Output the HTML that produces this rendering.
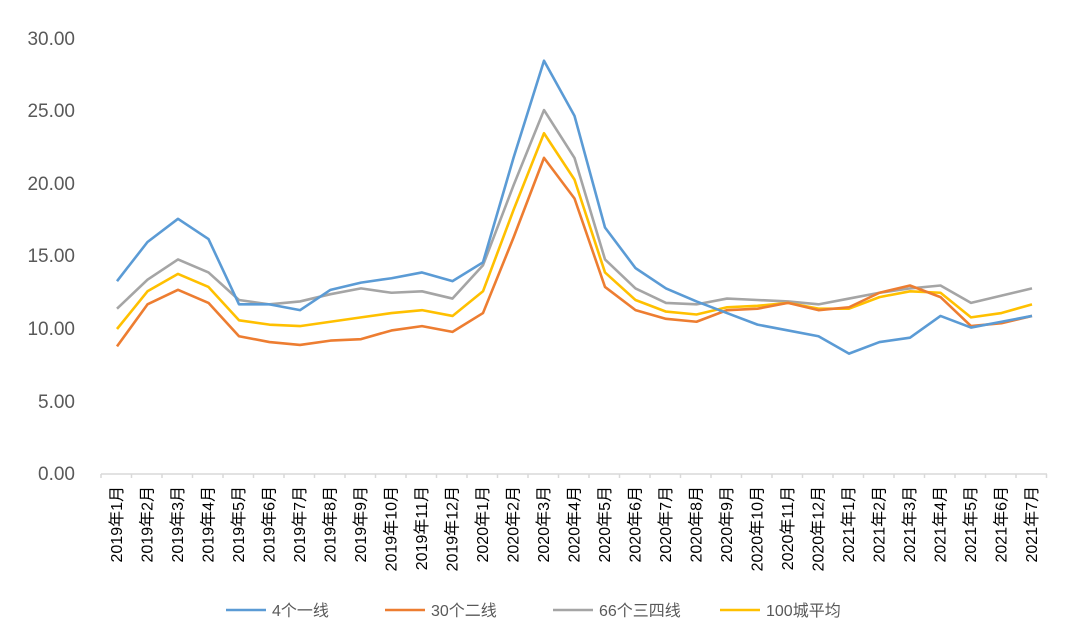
<!DOCTYPE html>
<html><head><meta charset="utf-8"><style>
body{margin:0;background:#fff;}
svg{display:block;font-family:"Liberation Sans","Noto Sans CJK SC",sans-serif;}
</style></head><body>
<svg id="c" width="1080" height="638" viewBox="0 0 1080 638">
<g fill="#595959" font-size="19" text-anchor="end">
<text x="75" y="45">30.00</text>
<text x="75" y="117">25.00</text>
<text x="75" y="190">20.00</text>
<text x="75" y="262">15.00</text>
<text x="75" y="335">10.00</text>
<text x="75" y="408">5.00</text>
<text x="75" y="480">0.00</text>
</g>
<line x1="101" y1="474" x2="1047" y2="474" stroke="#d9d9d9" stroke-width="1.5"/>
<g id="ticks" stroke="#d9d9d9" stroke-width="1.5"></g>
<g id="lines" fill="none" stroke-width="2.6" stroke-linejoin="round"></g>
<g font-size="16" fill="#000" text-anchor="end">
<text transform="translate(122,486) rotate(-90)">2019年1月</text>
<text transform="translate(152.5,486) rotate(-90)">2019年2月</text>
<text transform="translate(183,486) rotate(-90)">2019年3月</text>
<text transform="translate(213.5,486) rotate(-90)">2019年4月</text>
<text transform="translate(244,486) rotate(-90)">2019年5月</text>
<text transform="translate(274.5,486) rotate(-90)">2019年6月</text>
<text transform="translate(305,486) rotate(-90)">2019年7月</text>
<text transform="translate(335.5,486) rotate(-90)">2019年8月</text>
<text transform="translate(366,486) rotate(-90)">2019年9月</text>
<text transform="translate(396.5,486) rotate(-90)">2019年10月</text>
<text transform="translate(427,486) rotate(-90)">2019年11月</text>
<text transform="translate(457.5,486) rotate(-90)">2019年12月</text>
<text transform="translate(488,486) rotate(-90)">2020年1月</text>
<text transform="translate(518.5,486) rotate(-90)">2020年2月</text>
<text transform="translate(549,486) rotate(-90)">2020年3月</text>
<text transform="translate(579.5,486) rotate(-90)">2020年4月</text>
<text transform="translate(610,486) rotate(-90)">2020年5月</text>
<text transform="translate(640.5,486) rotate(-90)">2020年6月</text>
<text transform="translate(671,486) rotate(-90)">2020年7月</text>
<text transform="translate(701.5,486) rotate(-90)">2020年8月</text>
<text transform="translate(732,486) rotate(-90)">2020年9月</text>
<text transform="translate(762.5,486) rotate(-90)">2020年10月</text>
<text transform="translate(793,486) rotate(-90)">2020年11月</text>
<text transform="translate(823.5,486) rotate(-90)">2020年12月</text>
<text transform="translate(854,486) rotate(-90)">2021年1月</text>
<text transform="translate(884.5,486) rotate(-90)">2021年2月</text>
<text transform="translate(915,486) rotate(-90)">2021年3月</text>
<text transform="translate(945.5,486) rotate(-90)">2021年4月</text>
<text transform="translate(976,486) rotate(-90)">2021年5月</text>
<text transform="translate(1006.5,486) rotate(-90)">2021年6月</text>
<text transform="translate(1037,486) rotate(-90)">2021年7月</text>
</g>
<g font-size="16" fill="#595959" stroke-width="2.6">
<line x1="226" y1="610" x2="266" y2="610" stroke="#5B9BD5"/><text x="272" y="616">4个一线</text>
<line x1="385" y1="610" x2="425" y2="610" stroke="#ED7D31"/><text x="431" y="616">30个二线</text>
<line x1="553" y1="610" x2="593" y2="610" stroke="#A5A5A5"/><text x="599" y="616">66个三四线</text>
<line x1="720" y1="610" x2="760" y2="610" stroke="#FFC000"/><text x="766" y="616">100城平均</text>
</g>
</svg>
<script>
var S=[["#A5A5A5",[11.4,13.4,14.8,13.9,12.0,11.7,11.9,12.4,12.8,12.5,12.6,12.1,14.4,19.9,25.1,21.8,14.8,12.8,11.8,11.7,12.1,12.0,11.9,11.7,12.1,12.5,12.8,13.0,11.8,12.3,12.8]],
["#FFC000",[10.0,12.6,13.8,12.9,10.6,10.3,10.2,10.5,10.8,11.1,11.3,10.9,12.6,18.2,23.5,20.3,13.9,12.0,11.2,11.0,11.5,11.6,11.8,11.4,11.4,12.2,12.6,12.5,10.8,11.1,11.7]],
["#ED7D31",[8.8,11.7,12.7,11.8,9.5,9.1,8.9,9.2,9.3,9.9,10.2,9.8,11.1,16.3,21.8,19.0,12.9,11.3,10.7,10.5,11.3,11.4,11.8,11.3,11.5,12.5,13.0,12.2,10.2,10.4,10.9]],
["#5B9BD5",[13.3,16.0,17.6,16.2,11.7,11.7,11.3,12.7,13.2,13.5,13.9,13.3,14.6,21.8,28.5,24.7,17.0,14.2,12.8,11.9,11.1,10.3,9.9,9.5,8.3,9.1,9.4,10.9,10.1,10.5,10.9]]];
var ns="http://www.w3.org/2000/svg",g=document.getElementById("lines"),t=document.getElementById("ticks");
for(var i=0;i<=31;i++){var l=document.createElementNS(ns,"line");var x=101+i*30.5;l.setAttribute("x1",x);l.setAttribute("x2",x);l.setAttribute("y1",474);l.setAttribute("y2",478);t.appendChild(l);}
S.forEach(function(s){var p=document.createElementNS(ns,"polyline");p.setAttribute("stroke",s[0]);p.setAttribute("points",s[1].map(function(v,i){return (117+i*30.5)+","+(474-v*14.5)}).join(" "));g.appendChild(p);});
</script>
</body></html>
